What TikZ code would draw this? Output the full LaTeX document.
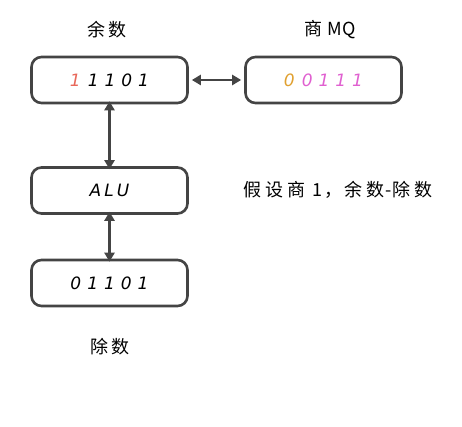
\documentclass[tikz,border=0pt]{standalone}
\usepackage{fontspec}
\setmainfont{DejaVu Sans}
\newfontfamily\cjk{Noto Sans CJK SC}
\usetikzlibrary{arrows.meta}
\definecolor{edge}{HTML}{444444}
\definecolor{redd}{HTML}{E8685A}
\definecolor{gold}{HTML}{E0A030}
\definecolor{mag}{HTML}{E060D0}
\tikzset{
  reg/.style={draw=edge, line width=2.6pt, rounded corners=10pt, minimum width=156pt, minimum height=46pt, inner sep=0pt, font=\fontsize{17}{20}\selectfont\itshape},
  lbl/.style={font=\cjk\fontsize{18}{20}\selectfont, text=black},
  conn/.style={draw=edge, line width=2.2pt, {Triangle[length=9pt,width=10pt]}-{Triangle[length=9pt,width=10pt]}},
}
\begin{document}
\begin{tikzpicture}[x=1pt,y=-1pt]
\useasboundingbox (0,0) rectangle (462,427);
\node[reg] (rem) at (109.5,80) {\textcolor{redd}{1}\hspace{7pt}1\hspace{6pt}1\hspace{6pt}0\hspace{6pt}1};
\node[reg] (mq) at (323.5,80) {\textcolor{gold}{0}\hspace{7pt}\textcolor{mag}{0\hspace{6pt}1\hspace{6pt}1\hspace{6pt}1}};
\node[reg] (alu) at (109.5,190.5) {A\hspace{3pt}L\hspace{3pt}U};
\node[reg] (div) at (109.5,283) {0\hspace{6pt}1\hspace{6pt}1\hspace{6pt}0\hspace{6pt}1};
\node[lbl] (l1) at (107,30) {余\hspace{3pt}数};
\node[lbl] (l2) at (330,30) {商\hspace{5pt}MQ};
\node[lbl] (l3) at (110,347) {除\hspace{3pt}数};
\node[lbl] (l4) at (338,190) {假\hspace{4pt}设\hspace{4pt}商\hspace{7pt}1\hspace{2pt}，\hspace{2pt}余\hspace{4pt}数\hspace{1pt}-\hspace{1pt}除\hspace{4pt}数};
\draw[conn] ([xshift=3pt]rem.east) -- ([xshift=-3pt]mq.west);
\draw[conn] ([yshift=3pt]rem.south) -- ([yshift=-3pt]alu.north);
\draw[conn] ([yshift=3pt]alu.south) -- ([yshift=-3pt]div.north);
\end{tikzpicture}
\end{document}
